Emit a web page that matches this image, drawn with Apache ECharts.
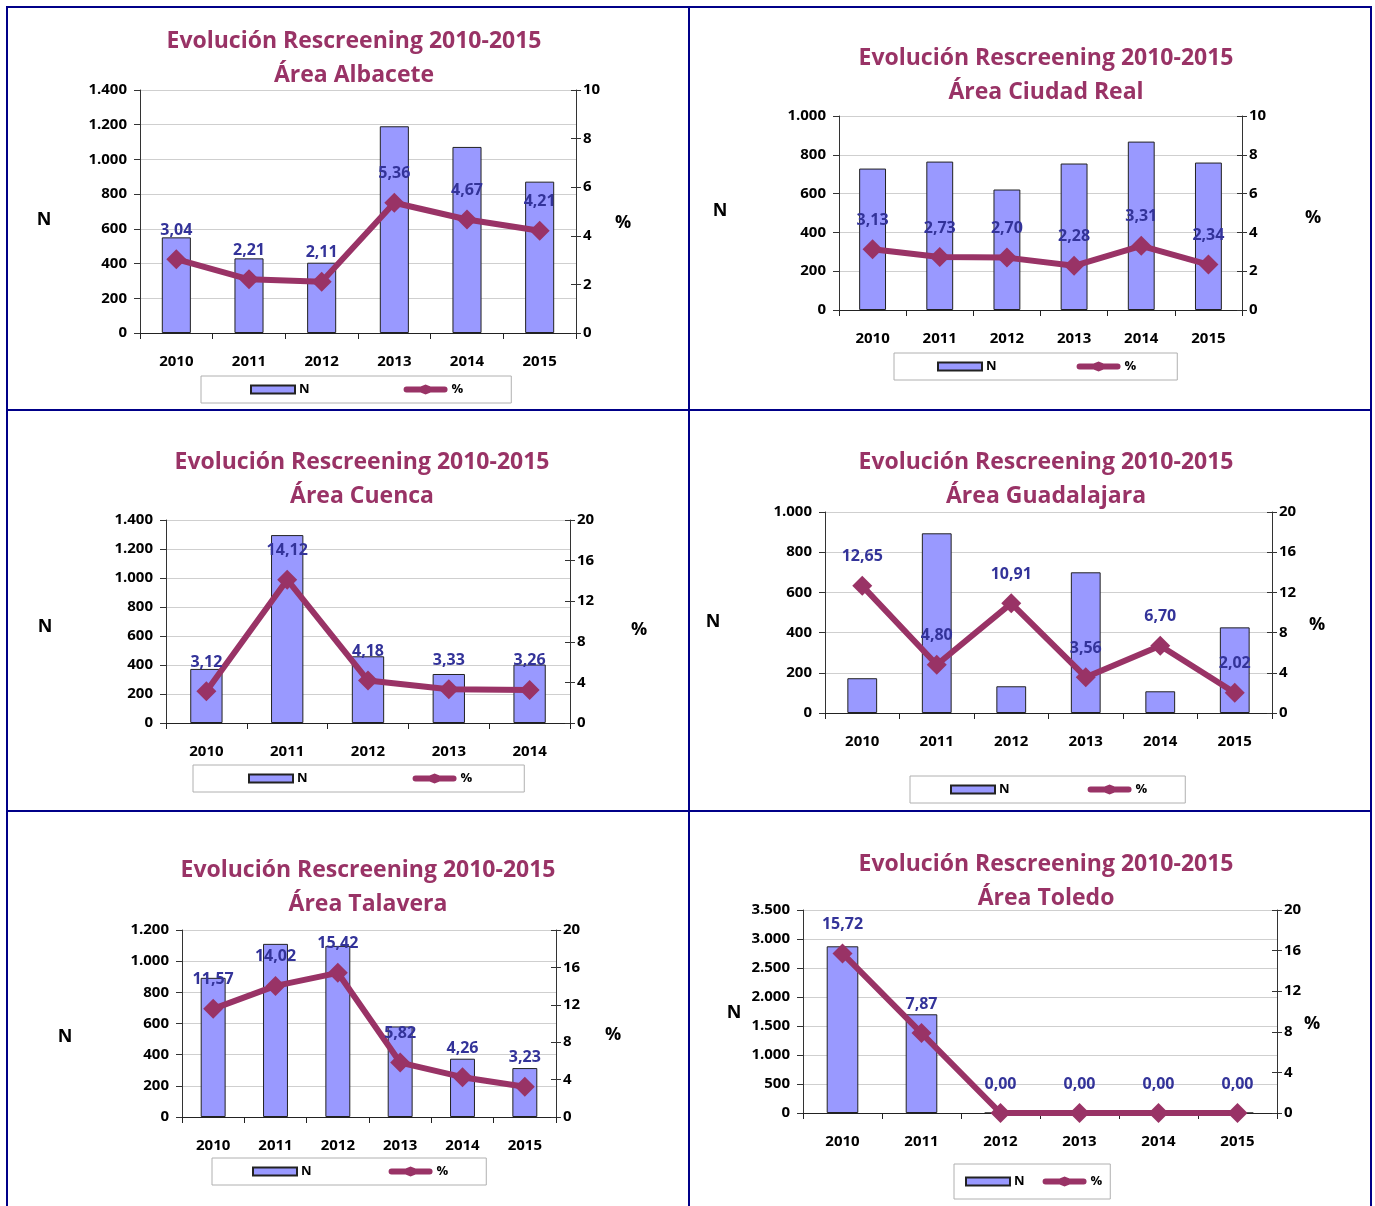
<!DOCTYPE html>
<html>
<head>
<meta charset="utf-8">
<title>Evolución Rescreening 2010-2015</title>
<script src="https://cdn.jsdelivr.net/npm/echarts@6/dist/echarts.min.js"></script>
<style>
  html, body { margin: 0; padding: 0; background: #fff; }
  #page { position: relative; width: 1375px; height: 1206px; overflow: hidden; }
  .panel { position: absolute; width: 680px; }
  .rule { position: absolute; background: #000088; }
</style>
</head>
<body>
<div id="page">
  <div class="panel" id="albacete" style="left:8px;top:8px;height:401px"></div>
  <div class="panel" id="ciudadReal" style="left:690px;top:8px;height:401px"></div>
  <div class="panel" id="cuenca" style="left:8px;top:411px;height:399px"></div>
  <div class="panel" id="guadalajara" style="left:690px;top:411px;height:399px"></div>
  <div class="panel" id="talavera" style="left:8px;top:812px;height:394px"></div>
  <div class="panel" id="toledo" style="left:690px;top:812px;height:394px"></div>

  <!-- marco azul de la tabla -->
  <div class="rule" style="left:6px;top:6px;width:1366px;height:2px"></div>
  <div class="rule" style="left:6px;top:409px;width:1366px;height:2px"></div>
  <div class="rule" style="left:6px;top:810px;width:1366px;height:2px"></div>
  <div class="rule" style="left:6px;top:6px;width:2px;height:1200px"></div>
  <div class="rule" style="left:688px;top:6px;width:2px;height:1200px"></div>
  <div class="rule" style="left:1370px;top:6px;width:2px;height:1200px"></div>
</div>
<script>
  // datos
  var years = ['2010', '2011', '2012', '2013', '2014', '2015'];
  var yearsCuenca = ['2010', '2011', '2012', '2013', '2014'];

  var albaceteN = [551, 430, 405, 1191, 1072, 872];
  var albacetePct = [3.04, 2.21, 2.11, 5.36, 4.67, 4.21];

  var ciudadRealN = [729, 765, 621, 755, 868, 760];
  var ciudadRealPct = [3.13, 2.73, 2.70, 2.28, 3.31, 2.34];

  var cuencaN = [373, 1296, 460, 338, 403];
  var cuencaPct = [3.12, 14.12, 4.18, 3.33, 3.26];

  var guadalajaraN = [173, 894, 133, 700, 108, 426];
  var guadalajaraPct = [12.65, 4.80, 10.91, 3.56, 6.70, 2.02];

  var talaveraN = [893, 1111, 1098, 581, 374, 314];
  var talaveraPct = [11.57, 14.02, 15.42, 5.82, 4.26, 3.23];

  var toledoN = [2874, 1702, 0, 0, 0, 0];
  var toledoPct = [15.72, 7.87, 0, 0, 0, 0];

  var FONT = '"Open Sans", sans-serif';
  var TITLE = 'Evolución Rescreening 2010-2015';

  // iconos de la leyenda: caja de la barra y línea gruesa con rombo
  var ICON_BAR = 'path://M0,1L44,1L44,9L0,9Z';
  var ICON_LINE = 'path://M3,2L17,2L22,0L27,2L41,2Q44,2 44,5Q44,8 41,8L27,8L22,10L17,8L3,8Q0,8 0,5Q0,2 3,2Z';

  function miles(v) {
    return String(v).replace(/\B(?=(\d{3})+(?!\d))/g, '.');
  }

  function drawPanel(id, area, cats, nData, pctData, ax, lay) {
    var myChart = echarts.init(document.getElementById(id));

    var rightAxisBase = {
      type: 'value',
      position: 'right',
      min: 0,
      max: ax.pMax,
      interval: ax.pInt
    };

    myChart.setOption({
      animation: false,
      textStyle: { fontFamily: FONT },
      title: {
        text: TITLE + '\n' + area,
        left: lay.titleX,
        top: lay.titleY - 21,
        textAlign: 'center',
        textStyle: {
          color: '#993366',
          fontFamily: FONT,
          fontWeight: 'bold',
          fontSize: 23,
          lineHeight: 34
        }
      },
      legend: {
        data: [
          { name: 'N', icon: ICON_BAR },
          { name: '%', icon: ICON_LINE, itemStyle: { color: '#993366', borderWidth: 0 } }
        ],
        left: lay.legX,
        top: lay.legY,
        itemWidth: 44,
        itemHeight: 10,
        itemGap: lay.legGap,
        padding: [lay.legPadV, lay.legPadR, lay.legPadV, lay.legPadL],
        borderColor: '#b0b0b0',
        borderWidth: 1,
        textStyle: { color: '#000', fontWeight: 'bold', fontSize: 13, fontFamily: FONT, padding: [0, 0, 0, -1] }
      },
      grid: {
        left: lay.gl, top: lay.gt, width: lay.gw, height: lay.gh,
        containLabel: false
      },
      graphic: [
        { type: 'text', x: lay.nX, y: lay.nY,
          style: { text: 'N', fill: '#000', font: 'bold 18px ' + FONT, align: 'center', verticalAlign: 'middle' } },
        { type: 'text', x: lay.pX, y: lay.pY,
          style: { text: '%', fill: '#000', font: 'bold 18px ' + FONT, align: 'center', verticalAlign: 'middle' } }
      ],
      xAxis: {
        type: 'category',
        data: cats,
        boundaryGap: true,
        axisLine: { lineStyle: { color: '#222', width: 1 } },
        axisTick: { show: true, length: 6, lineStyle: { color: '#222' } },
        axisLabel: { color: '#000', fontWeight: 'bold', fontSize: 15, margin: 21 }
      },
      yAxis: [{
        type: 'value',
        position: 'left',
        min: 0,
        max: ax.nMax,
        interval: ax.nInt,
        axisLine: { show: true, lineStyle: { color: '#333', width: 1 } },
        axisTick: { show: true, length: 6, lineStyle: { color: '#333' } },
        axisLabel: { color: '#000', fontWeight: 'bold', fontSize: 15, margin: 13, formatter: miles },
        splitLine: { show: true, lineStyle: { color: '#cfcfcf', width: 1 } }
      }, Object.assign({}, rightAxisBase, {
        axisLine: { show: true, lineStyle: { color: '#333', width: 1 } },
        axisTick: { show: true, length: 5, lineStyle: { color: '#333' } },
        axisLabel: { color: '#000', fontWeight: 'bold', fontSize: 15, margin: 7 },
        splitLine: { show: false }
      }), Object.assign({}, rightAxisBase, {
        // marcas hacia dentro para que crucen el eje, como en Excel
        axisLine: { show: false },
        axisTick: { show: true, inside: true, length: 5, lineStyle: { color: '#333' } },
        axisLabel: { show: false },
        splitLine: { show: false }
      })],
      series: [{
        name: 'N',
        type: 'bar',
        yAxisIndex: 0,
        data: nData,
        barWidth: '40%',
        itemStyle: { color: '#9999ff', borderColor: '#222', borderWidth: 1 }
      }, {
        name: '%',
        type: 'line',
        yAxisIndex: 1,
        data: pctData,
        symbol: 'diamond',
        symbolSize: 20,
        lineStyle: { color: '#993366', width: 6 },
        itemStyle: { color: '#993366' },
        label: {
          show: true,
          position: 'top',
          distance: 11,
          color: '#333399',
          fontWeight: 'bold',
          fontSize: 16,
          fontFamily: FONT,
          formatter: function (p) { return p.value.toFixed(2).replace('.', ','); }
        },
        z: 5
      }]
    });
  }

  drawPanel('albacete', 'Área Albacete', years, albaceteN, albacetePct,
    { nMax: 1400, nInt: 200, pMax: 10, pInt: 2 },
    { titleX: 341, titleY: 32, gl: 132, gt: 82, gw: 436, gh: 243,
      nX: 36, nY: 212, pX: 615, pY: 215,
      legX: 193, legY: 368, legPadL: 49, legPadR: 48, legGap: 94, legPadV: 7 });

  drawPanel('ciudadReal', 'Área Ciudad Real', years, ciudadRealN, ciudadRealPct,
    { nMax: 1000, nInt: 200, pMax: 10, pInt: 2 },
    { titleX: 351, titleY: 49, gl: 149, gt: 108, gw: 403, gh: 194,
      nX: 30, nY: 203, pX: 623, pY: 210,
      legX: 204, legY: 345, legPadL: 43, legPadR: 41, legGap: 80, legPadV: 7 });

  drawPanel('cuenca', 'Área Cuenca', yearsCuenca, cuencaN, cuencaPct,
    { nMax: 1400, nInt: 200, pMax: 20, pInt: 4 },
    { titleX: 349, titleY: 50, gl: 158, gt: 109, gw: 404, gh: 203,
      nX: 37, nY: 216, pX: 631, pY: 219,
      legX: 185, legY: 354, legPadL: 55, legPadR: 52, legGap: 105, legPadV: 7 });

  drawPanel('guadalajara', 'Área Guadalajara', years, guadalajaraN, guadalajaraPct,
    { nMax: 1000, nInt: 200, pMax: 20, pInt: 4 },
    { titleX: 351, titleY: 50, gl: 135, gt: 101, gw: 447, gh: 201,
      nX: 23, nY: 211, pX: 627, pY: 214,
      legX: 220, legY: 365, legPadL: 40, legPadR: 38, legGap: 78, legPadV: 7 });

  drawPanel('talavera', 'Área Talavera', years, talaveraN, talaveraPct,
    { nMax: 1200, nInt: 200, pMax: 20, pInt: 4 },
    { titleX: 355, titleY: 57, gl: 174, gt: 118, gw: 374, gh: 187,
      nX: 57, nY: 225, pX: 605, pY: 223,
      legX: 204, legY: 346, legPadL: 40, legPadR: 38, legGap: 77, legPadV: 7 });

  drawPanel('toledo', 'Área Toledo', years, toledoN, toledoPct,
    { nMax: 3500, nInt: 500, pMax: 20, pInt: 4 },
    { titleX: 351, titleY: 51, gl: 113, gt: 98, gw: 474, gh: 203,
      nX: 44, nY: 201, pX: 622, pY: 212,
      legX: 264, legY: 352, legPadL: 11, legPadR: 8, legGap: 18, legPadV: 11 });
</script>
</body>
</html>
